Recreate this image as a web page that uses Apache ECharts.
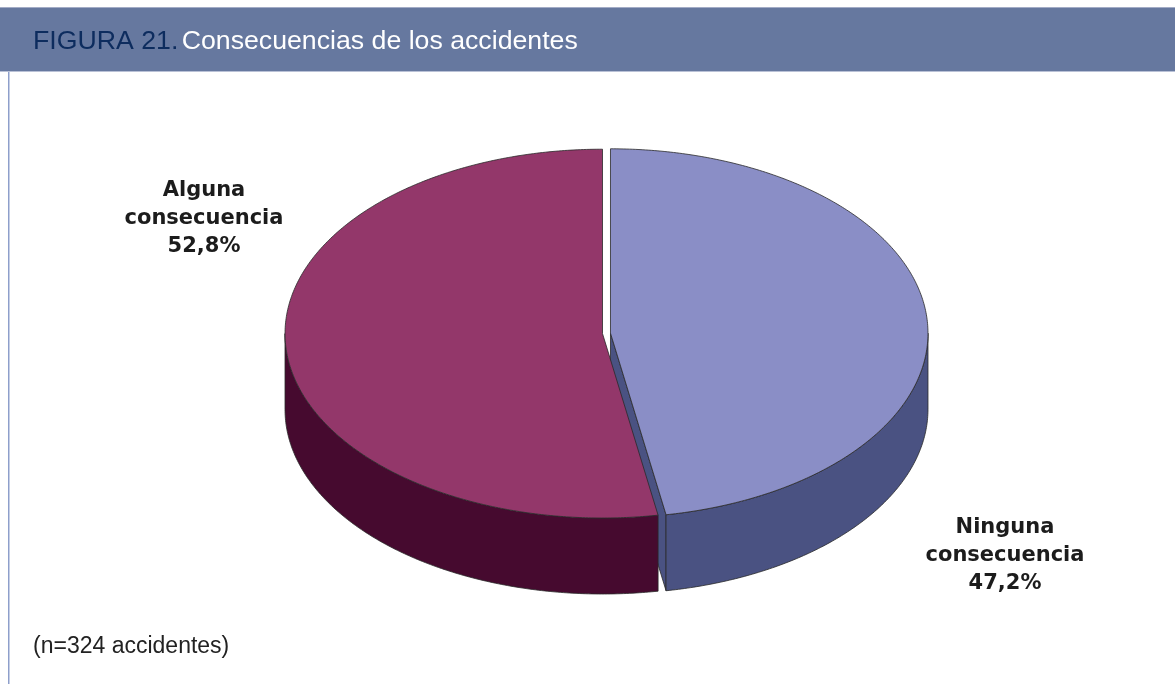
<!DOCTYPE html>
<html>
<head>
<meta charset="utf-8">
<script src="https://cdn.jsdelivr.net/npm/echarts@6/dist/echarts.min.js"></script>
<style>
  html, body { margin: 0; padding: 0; background: #ffffff; }
  #chart { width: 1175px; height: 684px; }
</style>
</head>
<body>
<div id="chart"></div>
<script>
// Accident outcomes (share of accidents, %)
const categories = ['Ninguna consecuencia', 'Alguna consecuencia'];
const shares = [47.2, 52.8];
const sampleSize = 324;
const figureTag = 'FIGURA 21.';
const figureTitle = 'Consecuencias de los accidentes';

// Styling and 3D-pie geometry
const topColors = ['#8a8ec6', '#93376a'];
const sideColors = ['#4a5282', '#460a2f'];
const edgeColor = '#2a2a2a';
const pie = { cx: 606.5, cy: 333.4, rx: 317.5, ry: 184.4, depth: 76, explode: 4 };
const labelAt = [[1005, 556], [204, 219]];

const total = shares.reduce((a, b) => a + b, 0);

// point on the pie rim; angle measured clockwise from 12 o'clock
function rimPoint(a, ox, oy, dy) {
  return [pie.cx + ox + pie.rx * Math.sin(a), pie.cy + oy - pie.ry * Math.cos(a) + dy];
}
function rimArc(a0, a1, ox, oy, dy) {
  const n = Math.max(2, Math.ceil(Math.abs(a1 - a0) / 0.01));
  const pts = [];
  for (let k = 0; k <= n; k++) pts.push(rimPoint(a0 + (a1 - a0) * k / n, ox, oy, dy));
  return pts;
}

function formatLabel(name, value) {
  return name.replace(' ', '\n') + '\n' + value.toFixed(1).replace('.', ',') + '%';
}

function renderSlice(params, api) {
  const i = params.dataIndex;
  const value = api.value(1);
  let before = 0;
  for (let k = 0; k < i; k++) before += shares[k];
  const a0 = before / total * Math.PI * 2;
  const a1 = (before + value) / total * Math.PI * 2;
  const mid = (a0 + a1) / 2;
  const ox = pie.explode * Math.sin(mid);
  const oy = -pie.explode * (pie.ry / pie.rx) * Math.cos(mid);
  const c = [pie.cx + ox, pie.cy + oy];
  const cBottom = [c[0], c[1] + pie.depth];
  const d = pie.depth;
  const children = [];
  const sideStyle = { fill: sideColors[i], stroke: edgeColor, lineWidth: 0.8 };

  // radial cut faces that turn toward the viewer
  if (Math.sin(a0) < -1e-6) {
    const r0 = rimPoint(a0, ox, oy, 0), r0b = rimPoint(a0, ox, oy, d);
    children.push({ type: 'polygon', z2: 1, shape: { points: [c, r0, r0b, cBottom] }, style: sideStyle });
  }
  if (Math.sin(a1) > 1e-6) {
    const r1 = rimPoint(a1, ox, oy, 0), r1b = rimPoint(a1, ox, oy, d);
    children.push({ type: 'polygon', z2: 1, shape: { points: [c, r1, r1b, cBottom] }, style: sideStyle });
  }

  // front part of the outer wall
  const s = Math.max(a0, Math.PI / 2), t = Math.min(a1, Math.PI * 1.5);
  if (t > s) {
    const topEdge = rimArc(s, t, ox, oy, 0);
    const bottomEdge = rimArc(t, s, ox, oy, d);
    children.push({ type: 'polygon', z2: 2, shape: { points: topEdge.concat(bottomEdge) }, style: sideStyle });
  }

  // top face
  children.push({
    type: 'polygon', z2: 3,
    shape: { points: [c].concat(rimArc(a0, a1, ox, oy, 0)) },
    style: { fill: topColors[i], stroke: edgeColor, lineWidth: 0.8 }
  });

  // slice label
  children.push({
    type: 'text', z2: 4,
    style: {
      text: formatLabel(categories[i], value),
      x: labelAt[i][0], y: labelAt[i][1],
      align: 'center', verticalAlign: 'middle',
      fontFamily: 'DejaVu Sans', fontWeight: 'bold', fontSize: 21, lineHeight: 28,
      fill: '#1c1c1c'
    }
  });

  return { type: 'group', children: children };
}

const chart = echarts.init(document.getElementById('chart'), null, { renderer: 'canvas' });
chart.setOption({
  animation: false,
  backgroundColor: '#ffffff',
  graphic: [
    { type: 'rect', z: 0, shape: { x: 0, y: 7, width: 1175, height: 65 }, style: { fill: '#66789f' } },
    { type: 'rect', z: 1, shape: { x: 0, y: 7, width: 1175, height: 1 }, style: { fill: '#a3acc6' } },
    { type: 'rect', z: 1, shape: { x: 0, y: 71, width: 1175, height: 1 }, style: { fill: '#b9c1d6' } },
    { type: 'rect', z: 1, shape: { x: 8, y: 72, width: 1.5, height: 612 }, style: { fill: '#8e9fcb' } },
    {
      type: 'text', z: 2,
      style: {
        text: '{tag|' + figureTag + '} {title|' + figureTitle + '}',
        x: 33, y: 42, verticalAlign: 'middle',
        rich: {
          tag: { fontFamily: 'Liberation Sans', fontSize: 26.7, fill: '#0d2c5e' },
          title: { fontFamily: 'Liberation Sans', fontSize: 26.7, fill: '#ffffff' }
        }
      }
    },
    {
      type: 'text', z: 2,
      style: {
        text: '(n=' + sampleSize + ' accidentes)',
        x: 33, y: 647, verticalAlign: 'middle',
        fontFamily: 'Liberation Sans', fontSize: 23, fill: '#222222'
      }
    }
  ],
  series: [{
    type: 'custom',
    coordinateSystem: 'none',
    renderItem: renderSlice,
    data: shares.map((v, i) => [i, v])
  }]
});
</script>
</body>
</html>
